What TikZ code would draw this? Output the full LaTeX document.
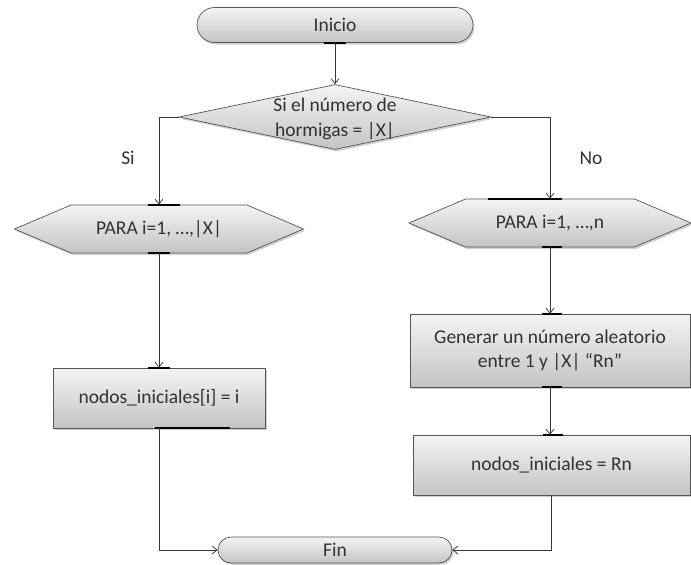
\documentclass[tikz,border=0pt]{standalone}
\usepackage{fontspec}
\setmainfont{Carlito}
\usetikzlibrary{arrows.meta,shapes.geometric,shapes.symbols,shapes.misc,shadows}

\definecolor{shadetop}{RGB}{244,244,244}
\definecolor{shadebot}{RGB}{196,196,196}
\definecolor{edgegray}{RGB}{85,85,85}
\definecolor{inkgray}{RGB}{50,50,50}
\definecolor{wiregray}{RGB}{55,55,55}

\tikzset{
  txt/.style={text=inkgray, font=\fontsize{19.5}{24.5}\selectfont, align=center},
  shape base/.style={draw=edgegray, line width=0.7pt,
    top color=shadetop, bottom color=shadebot, inner sep=0pt,
    drop shadow={shadow xshift=1.5pt, shadow yshift=-2pt, opacity=0.18, fill=black}},
  terminal/.style={shape base, txt, rounded rectangle},
  decision/.style={shape base, diamond},
  loopbox/.style={shape base, txt, signal, signal to=west and east,
    signal pointer angle=46},
  process/.style={shape base, txt, rectangle},
  wire/.style={draw=wiregray, line width=0.75pt,
    -{Straight Barb[length=5pt, width=8pt]}},
  bar/.style={draw=black, line width=2pt},
}

\begin{document}
\begin{tikzpicture}[x=1pt, y=-1pt]
  \useasboundingbox (0,0) rectangle (691,565);

  % start
  \node[terminal, minimum width=276pt, minimum height=35pt] (ini) at (335,25) {Inicio};

  % decision
  \node[decision, minimum width=312pt, minimum height=65pt] (dec) at (335,117) {};
  \node[txt] (dectext) at (335,119) {Si el número de\\hormigas = |X|};

  % left branch
  \node[loopbox, minimum width=289pt, minimum height=48pt] (p1) at (159,229) {PARA i=1, …,|X|};
  \node[process, minimum width=212pt, minimum height=60pt] (a1) at (159,398) {nodos\_iniciales[i] = i};

  % right branch
  \node[loopbox, minimum width=282pt, minimum height=48pt] (p2) at (550,223) {PARA i=1, …,n};
  \node[process, minimum width=280pt, minimum height=73pt] (g) at (550,350.5) {Generar un número aleatorio\\entre 1 y |X| “Rn”};
  \node[process, minimum width=277pt, minimum height=60pt] (r) at (551.5,465) {nodos\_iniciales = Rn};

  % end
  \node[terminal, minimum width=234pt, minimum height=26pt] (fin) at (335,550) {Fin};

  % branch labels
  \node[txt] (lsi) at (128,158) {Si};
  \node[txt] (lno) at (591,158) {No};

  % connection markers
  \draw[bar] ([xshift=-11pt]ini.south) -- ([xshift=11pt]ini.south);
  \draw[bar] ([xshift=-11pt]p1.north) -- ([xshift=21pt]p1.north);
  \draw[bar] ([xshift=-11pt]p1.south) -- ([xshift=11pt]p1.south);
  \draw[bar] ([xshift=-11pt]a1.north) -- ([xshift=11pt]a1.north);
  \draw[bar] ([xshift=-4pt]a1.south) -- ([xshift=71pt]a1.south);
  \draw[bar] ([xshift=-62pt]p2.north) -- ([xshift=12pt]p2.north);
  \draw[bar] ([xshift=-8pt]p2.south) -- ([xshift=12pt]p2.south);
  \draw[bar] ([xshift=-8pt]g.north) -- ([xshift=12pt]g.north);
  \draw[bar] ([xshift=-8pt]g.south) -- ([xshift=12pt]g.south);
  \draw[bar] ([xshift=-9pt]r.north) -- ([xshift=11pt]r.north);

  % connectors
  \draw[wire] (ini.south) -- (dec.north);
  \draw[wire] (dec.west) -| (p1.north);
  \draw[wire] (dec.east) -| (p2.north);
  \draw[wire] (p1.south) -- (a1.north);
  \draw[wire] (p2.south) -- (g.north);
  \draw[wire] (g.south) -- (g.south |- r.north);
  \draw[wire] (a1.south) |- (fin.west);
  \draw[wire] (r.south) |- (fin.east);
\end{tikzpicture}
\end{document}
